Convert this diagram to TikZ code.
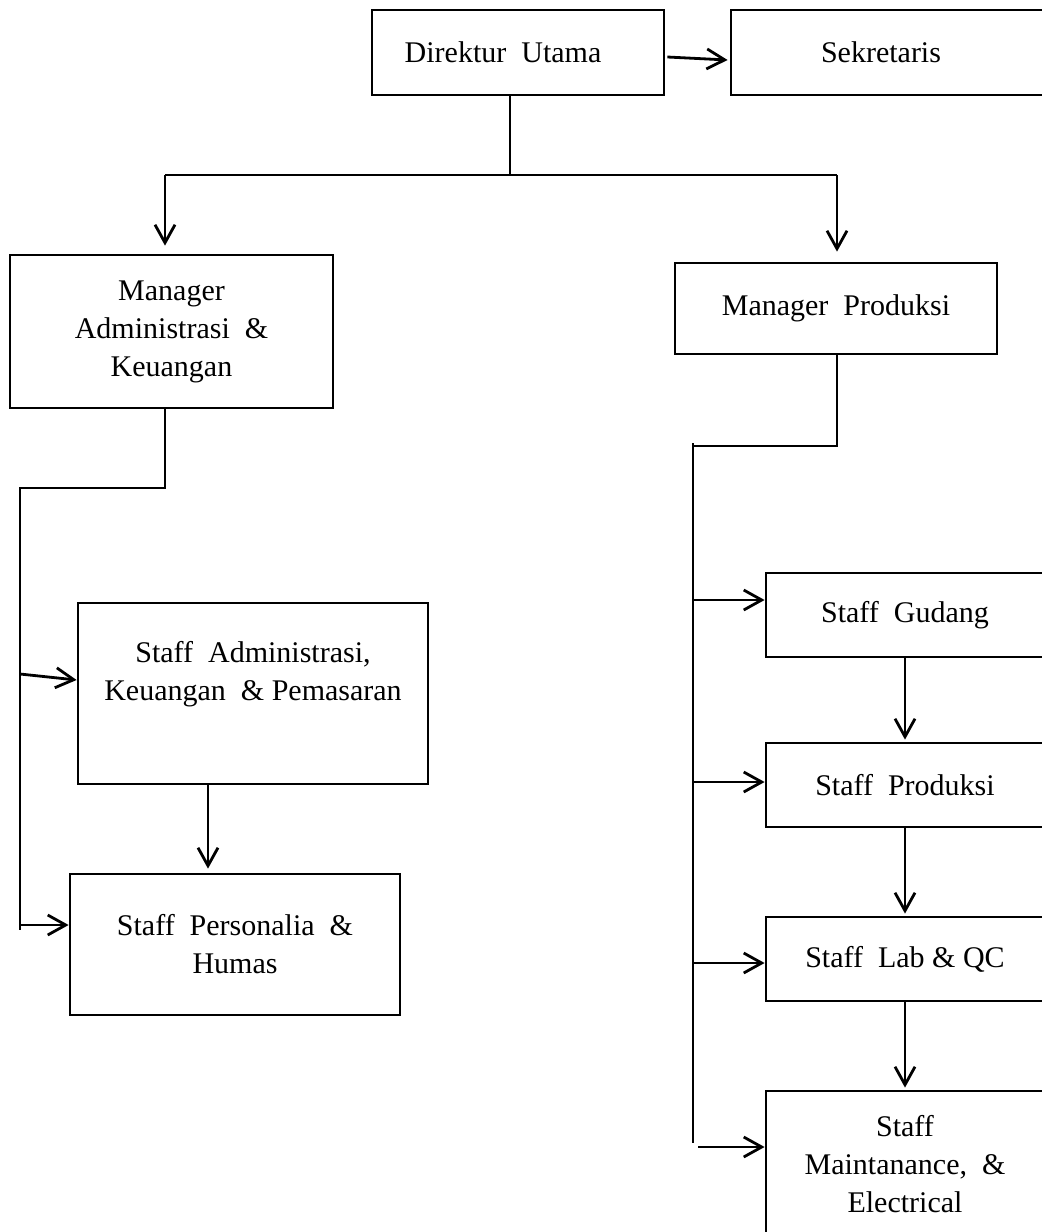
\documentclass[tikz,border=0pt]{standalone}
\usepackage{fontspec}
\setmainfont{Liberation Serif}
\usetikzlibrary{arrows.meta,calc}
\begin{document}
\begin{tikzpicture}[x=0.5pt,y=-0.5pt,
  box/.style={draw,line width=1.4pt,inner sep=0pt,align=center,font=\fontsize{15}{19}\selectfont},
  conn/.style={line width=1.4pt},
  arr/.style={conn,-{Straight Barb[length=9pt,width=10pt,line width=1.4pt]}}]
\useasboundingbox (0,0) rectangle (1041,1232);
% boxes
\node[box,minimum width=146pt,minimum height=42.5pt] (dir) at (518,52.5) {Direktur\ \ Utama\hspace*{15pt}};
\node[box,minimum width=156pt,minimum height=42.5pt] (sek) at (887,52.5) {Sekretaris\hspace*{6pt}};
\node[box,minimum width=161.5pt,minimum height=76.5pt] (ma) at (171.5,331.5) {Manager\\Administrasi\ \ \&\\Keuangan};
\node[box,minimum width=161pt,minimum height=45.5pt] (mp) at (836,308.5) {Manager\ \ Produksi};
\node[box,minimum width=175pt,minimum height=90.5pt] (sa) at (253,693.5) {Staff\ \ Administrasi,\\Keuangan\ \ \& Pemasaran\\[4pt]};
\node[box,minimum width=165pt,minimum height=70.5pt] (sp) at (235,944.5) {Staff\ \ Personalia\ \ \&\\Humas};
\node[box,minimum width=139pt,minimum height=42pt] (sg) at (905,615) {Staff\ \ Gudang};
\node[box,minimum width=139pt,minimum height=42pt] (spr) at (905,785) {Staff\ \ Produksi};
\node[box,minimum width=139pt,minimum height=42pt] (slq) at (905,959) {Staff\ \ Lab \& QC};
\node[box,minimum width=139pt,minimum height=73pt] (sm) at (905,1164) {Staff\\Maintanance,\ \ \&\\Electrical};
% junction coordinates
\coordinate (j0) at (510,175);
\coordinate (jl) at (165,175);
\coordinate (jr) at (837,175);
\coordinate (a1) at (165,488);
\coordinate (a2) at (20,488);
\coordinate (a3) at (20,930);
\coordinate (as1) at (20,674);
\coordinate (ap) at (20,925);
\coordinate (x1) at (208,0);
\coordinate (b1) at (837,446);
\coordinate (b2) at (693,446);
\coordinate (b0) at (693,443);
\coordinate (b3) at (693,1143);
\coordinate (g1) at (693,600);
\coordinate (g2) at (693,782);
\coordinate (g3) at (693,963);
\coordinate (g4) at (698,1147);
% connectors
\draw[arr] ($(dir.east)+(2,4.5)$) -- ($(sek.west)+(-2,7.5)$);
\draw[conn] (dir.south -| j0) -- (j0);
\draw[conn] (jl) -- (jr);
\draw[arr,shorten >=4pt] (jl) -- (jl |- ma.north);
\draw[arr,shorten >=5pt] (jr) -- (jr |- mp.north);
\draw[conn] (ma.south -| a1) -- (a1) -- (a2) -- (a3);
\draw[arr] (as1) -- ($(sa.west)+(0,-13.5)$);
\draw[arr,shorten >=2pt] (sa.south -| x1) -- (sp.north -| x1);
\draw[arr] (ap) -- (ap -| sp.west);
\draw[conn] (mp.south -| b1) -- (b1) -- (b2);
\draw[conn] (b0) -- (b3);
\draw[arr] (g1) -- (g1 -| sg.west);
\draw[arr] (g2) -- (g2 -| spr.west);
\draw[arr] (g3) -- (g3 -| slq.west);
\draw[arr] (g4) -- (g4 -| sm.west);
\draw[arr,shorten >=1pt] (sg.south) -- (spr.north);
\draw[arr,shorten >=1pt] (spr.south) -- (slq.north);
\draw[arr,shorten >=1pt] (slq.south) -- (sm.north);
\end{tikzpicture}
\end{document}
